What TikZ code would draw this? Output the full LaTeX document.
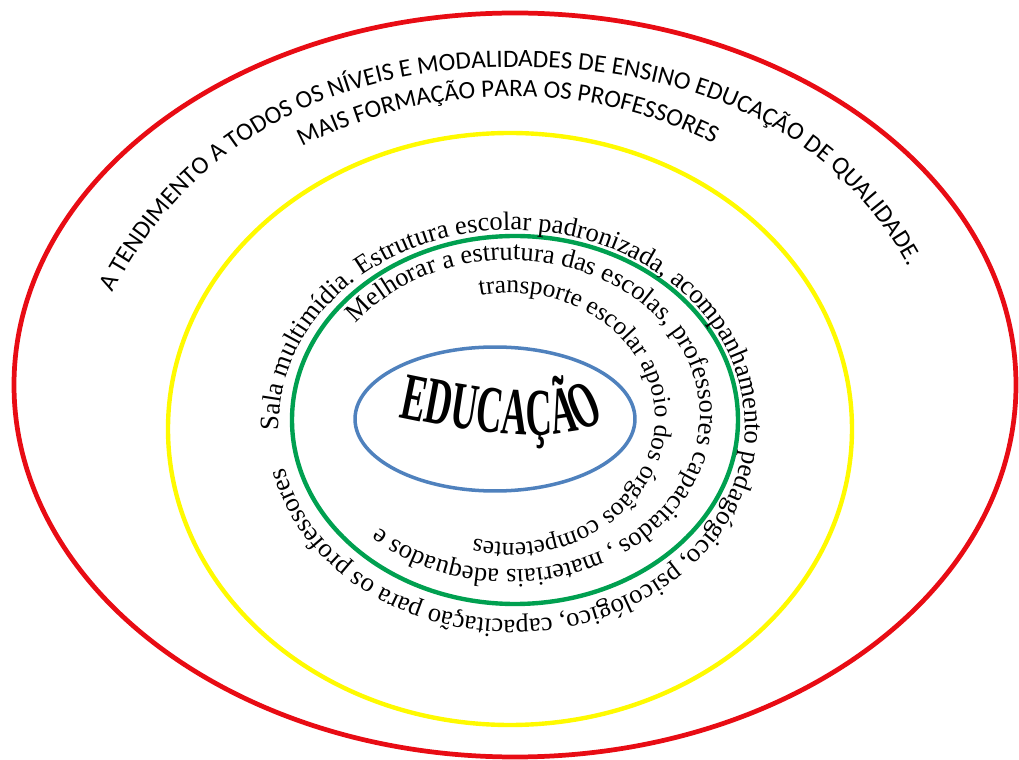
\documentclass[tikz,border=0pt]{standalone}
\usepackage{fontspec}
\setmainfont{Liberation Serif}
\setsansfont{Carlito}
\newfontfamily\edufont[FakeStretch=0.545]{Liberation Serif}
\usetikzlibrary{decorations.text,shapes.geometric,calc}

\definecolor{ringred}{RGB}{232,12,20}
\definecolor{ringyellow}{RGB}{255,250,0}
\definecolor{ringgreen}{RGB}{0,160,80}
\definecolor{coreblue}{RGB}{79,129,189}

\newcommand\bandfont{\sffamily\fontsize{14.3}{17}\selectfont}
\newcommand\ringfont{\rmfamily\fontsize{15.1}{18}\selectfont}
\newcommand\innerfont{\rmfamily\fontsize{15.0}{17}\selectfont}
\newcommand\lastfont{\rmfamily\fontsize{14.45}{17}\selectfont}
\newcommand\corefont{\edufont\bfseries\fontsize{38}{40}\selectfont}

\begin{document}
\begin{tikzpicture}[x=0.02cm, y=0.02cm]
\tikzstyle{ring}=[line width=2.5pt]
\tikzstyle{curved}=[decorate, decoration={text along path, text align=left, text={#1}}]
\useasboundingbox (0,0) rectangle (1019,-760);

\coordinate (R) at (515,-385);
\coordinate (Y) at (510,-429);
\coordinate (G) at (515,-420);
\coordinate (S) at (512,-425);
\coordinate (M) at (510,-415);
\coordinate (N) at (510,-418);

\draw[ring, ringred, line width=2.7pt] (R) ellipse [x radius=501, y radius=372];
\draw[ring, ringyellow] (Y) ellipse [x radius=342, y radius=296];
\draw[ring, ringgreen] (G) ellipse [x radius=223, y radius=184];
\node[ellipse, draw=coreblue, line width=2pt, inner sep=0pt,
      minimum width=5.6cm, minimum height=2.88cm] (edu) at (495,-419) {};

\path[curved={|\bandfont|A TENDIMENTO A TODOS OS NÍVEIS E MODALIDADES DE ENSINO EDUCAÇÃO DE QUALIDADE.}]
  (113,-293) .. controls (180,-162) and (310,-67) .. (512,-67)
  .. controls (714,-67) and (846,-144) .. (913,-275) -- (933,-314);
\path[curved={|\bandfont|MAIS FORMAÇÃO PARA OS PROFESSORES}]
  (302,-147) .. controls (430,-80) and (590,-80) .. (714,-144) -- (760,-168);

\path[curved={|\ringfont|Sala multimídia. Estrutura escolar padronizada, acompanhamento pedagógico, psicológico, capacitação para os professores}]
  ($(S)+(181.5:233 and 195)$) arc[start angle=181.5, end angle=-200, x radius=233, y radius=195];

\path[curved={|\innerfont|Melhorar a estrutura das escolas, professores capacitados , materiais adequados e}]
  ($(M)+(144:190 and 155)$) arc[start angle=144, end angle=-160, x radius=190, y radius=155];
\path[curved={|\lastfont|transporte escolar apoio dos órgãos competentes}]
  ($(N)+(102:145 and 125)$) arc[start angle=102, end angle=-140, x radius=145, y radius=125];

\path[curved={|\corefont|EDUCAÇÃO}]
  ($(edu.center)+(-96,2)$) .. controls +(48,-10) and +(-48,-24) .. ($(edu.center)+(101,-5)$) -- ++(25,12);
\end{tikzpicture}
\end{document}
